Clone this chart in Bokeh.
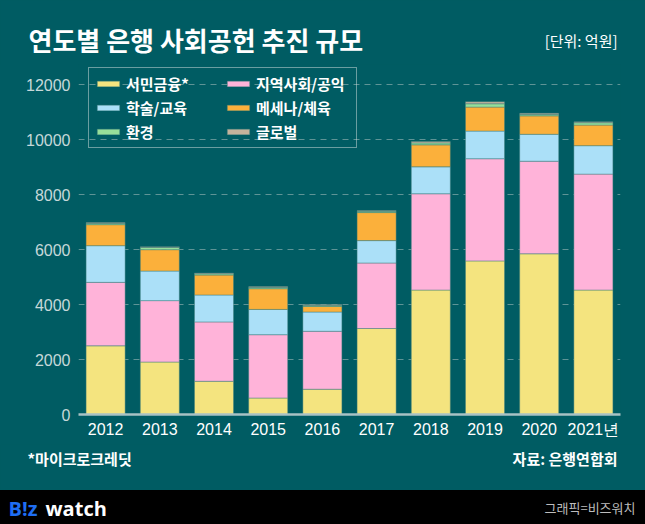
from bokeh.plotting import figure
from bokeh.models import (Range1d, FactorRange, FixedTicker, Legend, LegendItem,
                          Label, ColumnDataSource)
from bokeh.layouts import column
from bokeh.embed import file_html
from bokeh.resources import INLINE

# ---- data (억원) ----
years = ["2012", "2013", "2014", "2015", "2016", "2017", "2018", "2019", "2020", "2021년"]
seomin = [2500, 1910, 1210, 600, 920, 3130, 4530, 5590, 5850, 4530]      # 서민금융*
jiyeok = [2310, 2235, 2160, 2305, 2110, 2385, 3505, 3720, 3370, 4220]    # 지역사회/공익
haksul = [1335, 1075, 980, 920, 700, 815, 980, 1005, 980, 1035]          # 학술/교육
mesena = [765, 780, 725, 755, 205, 1020, 800, 875, 670, 750]             # 메세나/체육
hwangyeong = [45, 80, 45, 45, 35, 45, 70, 120, 50, 85]                   # 환경
global_ = [30, 30, 30, 30, 30, 30, 50, 75, 45, 35]                       # 글로벌

series_names = ["서민금융*", "지역사회/공익", "학술/교육", "메세나/체육", "환경", "글로벌"]
series_keys = ["seomin", "jiyeok", "haksul", "mesena", "hwangyeong", "global"]
colors = ["#f4e47f", "#ffb3d9", "#abe0f8", "#fbb03b", "#97df9a", "#c5b39c"]
y_ticks = [0, 2000, 4000, 6000, 8000, 10000, 12000]

BG = "#005c63"
KFONT = "Noto Sans CJK KR"
NFONT = "Liberation Sans"
W = 645


def text_fig(height, bg):
    f = figure(width=W, height=height, x_range=Range1d(0, W), y_range=Range1d(0, height),
               output_backend="svg", toolbar_location=None, min_border=0,
               min_border_left=0, min_border_right=0, min_border_top=0, min_border_bottom=0,
               background_fill_color=bg, border_fill_color=bg, outline_line_color=None,
               x_axis_location=None, y_axis_location=None)
    f.frame_align = False
    f.grid.visible = False
    f.styles = {"background-color": bg}
    return f


# ---- header ----
h = text_fig(64, BG)
h.add_layout(Label(x=28, y=25.5, text="연도별 은행 사회공헌 추진 규모", text_color="white",
                   text_font=KFONT, text_font_style="bold", text_font_size="26px",
                   text_baseline="middle"))
h.add_layout(Label(x=617, y=24, text="[단위: 억원]", text_color="white", text_font=KFONT,
                   text_font_size="15px", text_baseline="middle", text_align="right"))

# ---- main chart ----
src = ColumnDataSource(data=dict(year=years, seomin=seomin, jiyeok=jiyeok, haksul=haksul,
                                 mesena=mesena, hwangyeong=hwangyeong, **{"global": global_}))

p = figure(width=W, height=380, x_range=FactorRange(*years), y_range=Range1d(0, 12740),
           output_backend="svg", toolbar_location=None,
           min_border_left=78, min_border_right=25, min_border_top=0, min_border_bottom=30,
           background_fill_color=BG, border_fill_color=BG, outline_line_color=None)
p.frame_align = False
p.styles = {"background-color": BG}

renderers = p.vbar_stack(series_keys, x="year", width=0.72, fill_color=colors,
                         line_color="#3f7f7c", line_alpha=0.45, line_width=1, source=src)

p.xaxis.axis_line_color = "#a9c2c4"
p.xaxis.axis_line_width = 2.5
p.xaxis.major_tick_line_color = None
p.xaxis.minor_tick_line_color = None
p.xaxis.major_tick_out = 0
p.xaxis.major_tick_in = 0
p.xaxis.minor_tick_out = 0
p.xaxis.major_label_text_color = "white"
p.xaxis.major_label_text_font = NFONT
p.xaxis.major_label_text_font_size = "16px"
p.xaxis.major_label_standoff = 6

p.yaxis.ticker = FixedTicker(ticks=y_ticks)
p.yaxis.axis_line_color = None
p.yaxis.major_tick_line_color = None
p.yaxis.minor_tick_line_color = None
p.yaxis.major_tick_out = 0
p.yaxis.major_tick_in = 0
p.yaxis.minor_tick_out = 0
p.yaxis.major_label_text_color = "#c6d8d9"
p.yaxis.major_label_text_font = NFONT
p.yaxis.major_label_text_font_size = "16px"
p.yaxis.major_label_standoff = 8

p.xgrid.grid_line_color = None
p.ygrid.grid_line_color = "#5f9496"
p.ygrid.grid_line_dash = "6 5"
p.ygrid.grid_line_width = 1

items = [LegendItem(label=n, renderers=[r]) for n, r in zip(series_names, renderers)]
legend = Legend(items=items, orientation="horizontal", ncols=2, location=(10, 266),
                margin=0, padding=5, spacing=3, label_standoff=4,
                glyph_width=28, glyph_height=7, label_height=21, label_width=95,
                label_text_color="white", label_text_font=KFONT, label_text_font_style="bold",
                label_text_font_size="15px",
                border_line_color="#d3dfdf", border_line_width=1.5,
                background_fill_alpha=0)
p.add_layout(legend, "center")

# ---- notes ----
n = text_fig(46, BG)
n.add_layout(Label(x=27, y=32, text="*마이크로크레딧", text_color="white", text_font=KFONT,
                   text_font_style="bold", text_font_size="15px", text_baseline="middle"))
n.add_layout(Label(x=617, y=32, text="자료: 은행연합회", text_color="white", text_font=KFONT,
                   text_font_style="bold", text_font_size="15px", text_baseline="middle",
                   text_align="right"))

# ---- footer band ----
f = text_fig(34, "black")
f.add_layout(Label(x=8, y=16.5, text="B!z", text_color="#1f6ef2", text_font="Open Sans",
                   text_font_style="bold", text_font_size="20px", text_baseline="middle"))
f.add_layout(Label(x=45, y=16.5, text="watch", text_color="white", text_font="Open Sans",
                   text_font_style="bold", text_font_size="20px", text_baseline="middle"))
f.add_layout(Label(x=635, y=17, text="그래픽=비즈워치", text_color="#bdbdbd", text_font=KFONT,
                   text_font_size="13px", text_baseline="middle", text_align="right"))

layout = column(h, p, n, f, spacing=0)
layout.styles = {"background-color": BG}
open("out.html", "w").write(file_html(layout, INLINE))
